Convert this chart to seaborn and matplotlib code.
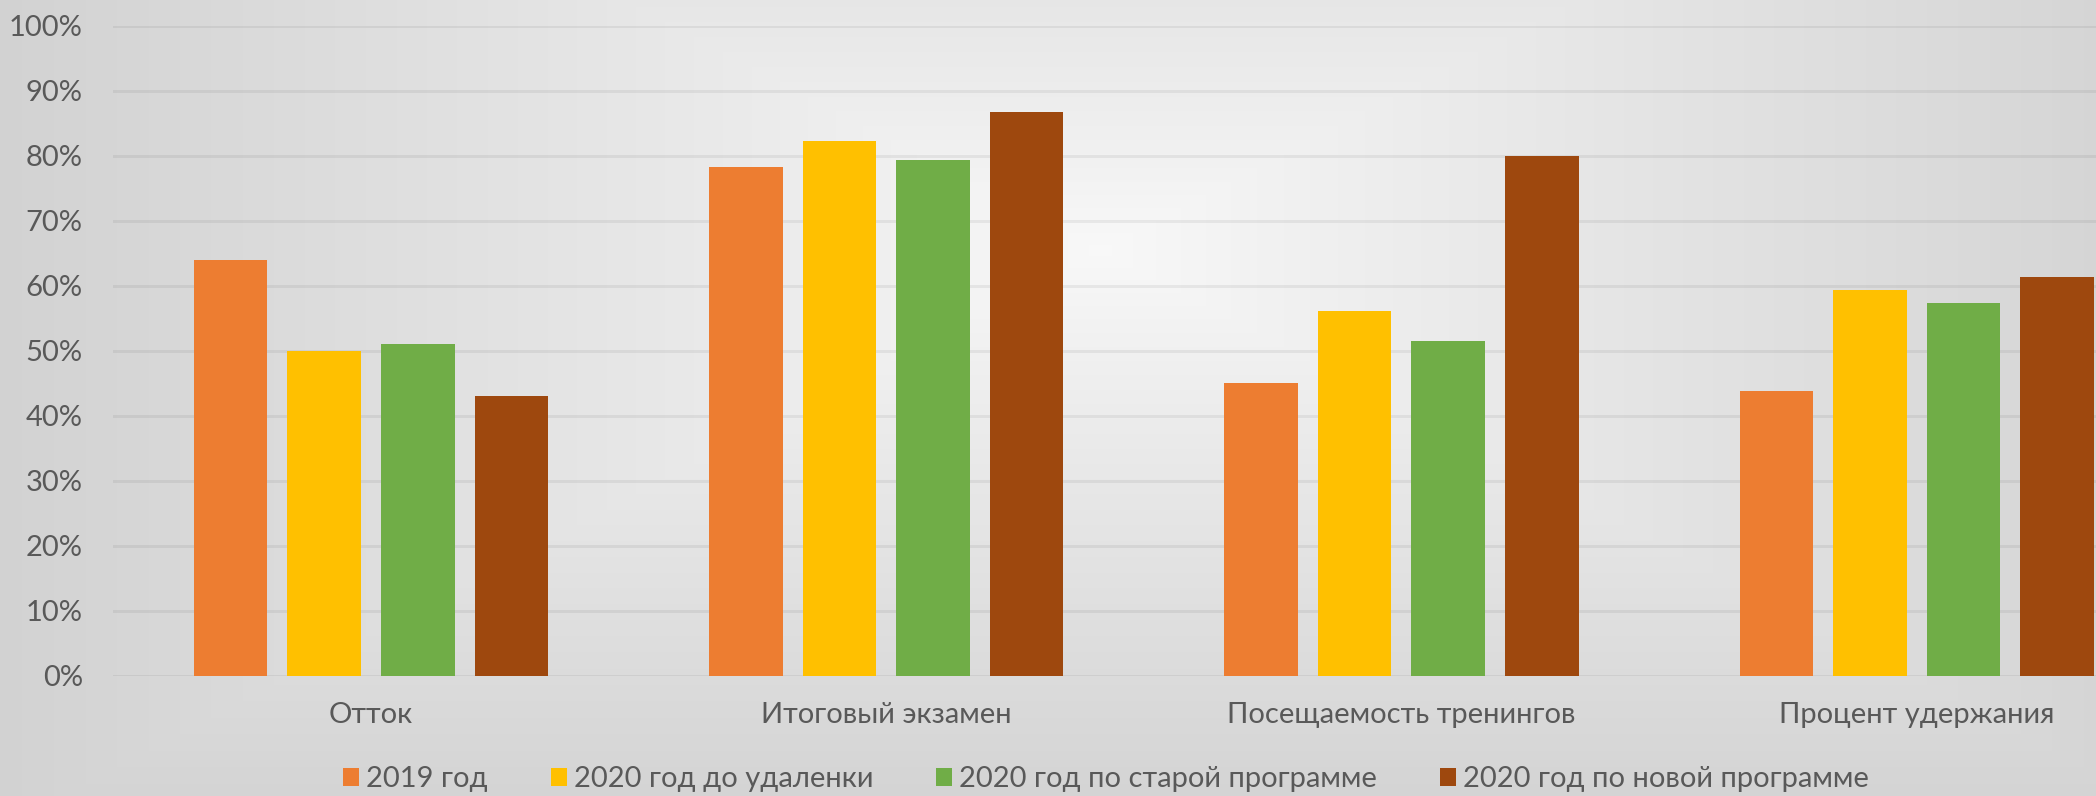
import numpy as np
import pandas as pd
import matplotlib
matplotlib.use("Agg")
import matplotlib.pyplot as plt
import seaborn as sns
from matplotlib.ticker import PercentFormatter

categories = ["Отток", "Итоговый экзамен", "Посещаемость тренингов", "Процент удержания"]
series_names = ["2019 год", "2020 год до удаленки", "2020 год по старой программе", "2020 год по новой программе"]
v2019 = [0.64, 0.783, 0.45, 0.438]
v2020_before = [0.50, 0.823, 0.561, 0.594]
v2020_old = [0.51, 0.794, 0.515, 0.573]
v2020_new = [0.43, 0.868, 0.80, 0.614]
colors = ["#ED7D31", "#FFC000", "#70AD47", "#9E480E"]
yticks = [0, 0.1, 0.2, 0.3, 0.4, 0.5, 0.6, 0.7, 0.8, 0.9, 1.0]

rows = []
for name, vals in zip(series_names, [v2019, v2020_before, v2020_old, v2020_new]):
    for c, v in zip(categories, vals):
        rows.append({"cat": c, "series": name, "value": v})
df = pd.DataFrame(rows)

sns.set_theme(style="white")
plt.rcParams['font.family'] = ['Lato', 'DejaVu Sans']
text_color = "#595959"

W, H = 2096, 796
fig = plt.figure(figsize=(W / 100, H / 100), dpi=100)

# background gradient
bg = fig.add_axes([0, 0, 1, 1], zorder=-10)
xx, yy = np.meshgrid(np.arange(W), np.arange(H))
cx, cy = 1100, 250
t = np.maximum(np.abs(xx - cx) / 1180.0, np.abs(yy - cy) / 620.0)
t = np.clip(t, 0, 1) ** 0.9
c0, c1 = 0.975, 0.815
img = c0 + (c1 - c0) * t
bg.imshow(np.dstack([img, img, img]), aspect="auto", extent=[0, 1, 0, 1], origin="upper")
bg.axis("off")

left = 113.4 / W
bottom = (H - 675.5) / H
top = (H - 26) / H
ax = fig.add_axes([left, bottom, 1 - left, top - bottom])
ax.set_facecolor("none")

sns.barplot(data=df, x="cat", y="value", hue="series", order=categories,
            hue_order=series_names, palette=colors, width=0.7266, gap=0.2137,
            linewidth=0, saturation=1, ax=ax, legend=True)

ax.set_xlim(-0.5, 3.348)
ax.set_ylim(0, 1.0)
ax.set_yticks(yticks)
ax.yaxis.set_major_formatter(PercentFormatter(1.0, decimals=0))
ax.yaxis.grid(True, color="black", alpha=0.06, linewidth=2.2, zorder=0)
ax.set_axisbelow(True)
for s in ax.spines.values():
    s.set_visible(False)
ax.tick_params(axis="both", length=0, colors=text_color, labelsize=21)
ax.tick_params(axis="y", pad=22)
ax.tick_params(axis="x", pad=19)
ax.set_xlabel("")
ax.set_ylabel("")

handles, labels = ax.get_legend_handles_labels()
ax.get_legend().remove()
leg = fig.legend(handles, labels, loc="center", bbox_to_anchor=(0.5277, 0.021), ncol=4,
                 frameon=False, fontsize=21, handlelength=0.55, handleheight=0.55,
                 handletextpad=0.25, columnspacing=2.15, labelcolor=text_color)

fig.savefig("out.png", dpi=100)
